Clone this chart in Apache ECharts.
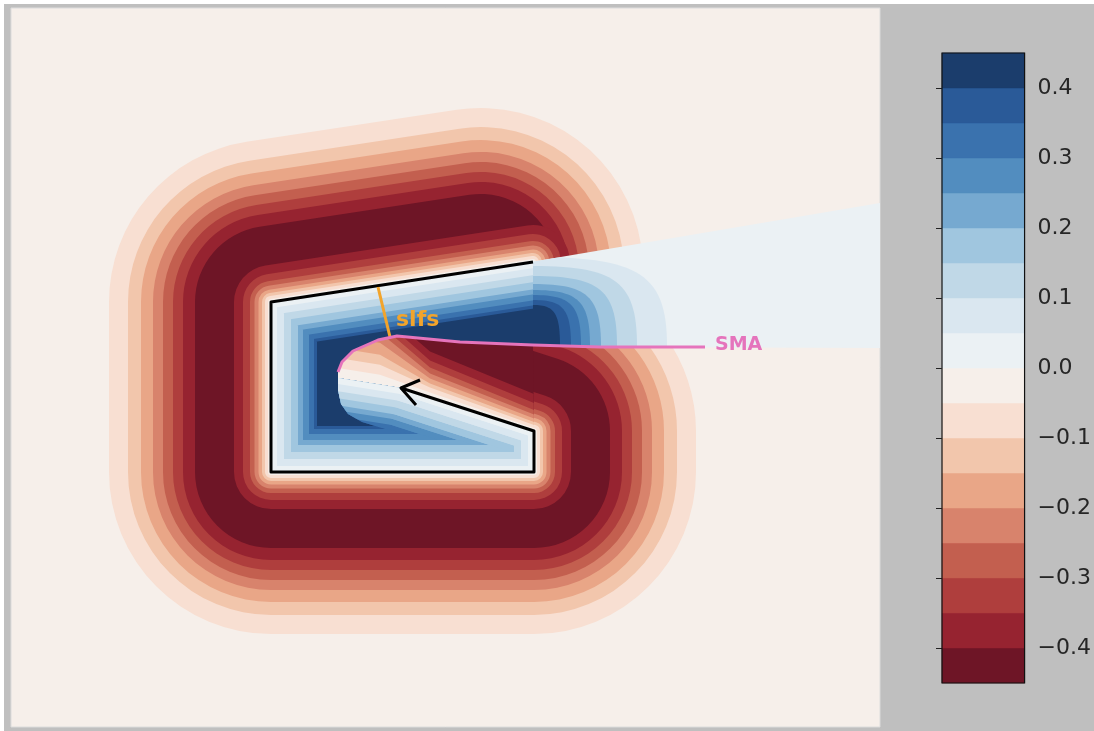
<!DOCTYPE html>
<html>
<head>
<meta charset="utf-8">
<script src="https://cdn.jsdelivr.net/npm/echarts@6/dist/echarts.min.js"></script>
<style>
html,body{margin:0;padding:0;background:#ffffff;}
#fig{position:absolute;left:4px;top:4px;width:1090px;height:727px;background:#bfbfbf;}
#chart{position:absolute;left:0;top:0;width:1094px;height:731px;}
</style>
</head>
<body>
<div id="fig"></div>
<div id="chart"></div>
<script>
// ---------------- data (plot units) ----------------
const levelEdges = [-0.45,-0.40,-0.35,-0.30,-0.25,-0.20,-0.15,-0.10,-0.05,0.00,0.05,0.10,0.15,0.20,0.25,0.30,0.35,0.40,0.45];
const colorbarTicks = [-0.4,-0.3,-0.2,-0.1,0.0,0.1,0.2,0.3,0.4];

// black open outline (top arm end -> top-left -> bottom-left -> bottom-right -> right -> arrow tip)
const outline = [[5.22,4.65],[2.60,4.25],[2.60,2.55],[5.23,2.55],[5.23,2.96],[3.90,3.39]];
const arrowHead = [[4.09,3.47],[3.90,3.39],[4.05,3.22]];
const zeroLineEnd = [3.27,3.49];
const redCapEnd = [4.70,4.57];
const smaLine = [[3.27,3.55],[3.31,3.65],[3.42,3.76],[3.67,3.87],[3.86,3.91],[4.49,3.85],[5.22,3.82],[5.89,3.80],[6.94,3.80]];
const slfsLine = [[3.67,4.40],[3.79,3.90]];
const fanEdge = [[5.20,4.65],[8.69,5.24],[8.69,3.79],[5.89,3.80],[5.20,3.82]];
const tongueLowerEdge = [[3.27,3.37],[3.30,3.23],[3.37,3.13],[3.51,3.05],[3.74,2.98],[4.09,2.91],[4.20,2.55]];

// red field bands: distance from outline and band (lower bound)
const redOuterDist  = [1.62,1.43,1.30,1.18,1.08,0.98,0.88,0.76];
const redOuterLevel = [-0.10,-0.15,-0.20,-0.25,-0.30,-0.35,-0.40,-0.45];
const redInnerDist  = [0.37,0.28,0.21,0.165,0.125,0.09,0.06,0.03];
const redInnerLevel = [-0.40,-0.35,-0.30,-0.25,-0.20,-0.15,-0.10,-0.05];

// red bands above the arrow (tongue): height above the zero line at stations
const tongueFillLevel = -0.45;
const tongueStations  = [3.27,3.69,4.19,5.23,5.40];
const tongueBandLevel = [-0.40,-0.35,-0.30,-0.25,-0.20,-0.15,-0.10,-0.05];
const tongueBandHeight = [
  [0.76,0.76,0.46,0.37,0.37],
  [0.68,0.68,0.37,0.28,0.28],
  [0.60,0.60,0.30,0.21,0.21],
  [0.52,0.52,0.24,0.165,0.165],
  [0.42,0.42,0.19,0.125,0.125],
  [0.30,0.30,0.14,0.09,0.09],
  [0.20,0.20,0.10,0.06,0.06],
  [0.10,0.10,0.05,0.03,0.03]
];

// blue interior bands: inset distance and band
const blueCoreLevel = 0.40;
const blueDist  = [0.46,0.43,0.38,0.32,0.27,0.20,0.13,0.06];
const blueLevel = [0.35,0.30,0.25,0.20,0.15,0.10,0.05,0.00];

// blue lobe right of the opening
const fanLevel  = 0.00;
const lobeLevel = [0.05,0.10,0.15,0.20,0.25,0.30,0.35,0.40];
const lobeTop   = [4.70,4.61,4.51,4.43,4.37,4.32,4.27,4.22];
const lobeRight = [6.56,6.26,6.06,5.90,5.79,5.70,5.60,5.49];
const smaBaseY  = 3.81;

const labels = [
  {pos:[3.85,4.07], text:'slfs'},
  {pos:[7.04,3.82], text:'SMA'}
];

// ---------------- styles ----------------
const palette = ['#6e1526','#962330','#af3e3d','#c35f4f','#d8836c','#e9a687','#f2c6ac','#f8dfd2','#f6efea',
                 '#ebf1f4','#dae7f0','#c0d8e7','#a0c6df','#76a9d0','#528dbf','#3a72ae','#2a5a98','#1b3d6c'];
function colorOf(v){ return palette[Math.max(0,Math.min(17,Math.round((v-levelEdges[0])/0.05)))]; }
const ORANGE = '#f2a42c', PINK = '#e574bc';

const P4 = outline[3], P5 = outline[4], P6 = outline[5];
const redOuterPath = [redCapEnd].concat(outline.slice(1)).concat([zeroLineEnd]);
const redInnerPath = outline.concat([zeroLineEnd]);
const tongueSegPath = [P5, P6, zeroLineEnd];
const zeroChain = [zeroLineEnd, P6, P5, [5.40, P5[1] - 0.06]];
const cClip = outline.concat([zeroLineEnd]).concat(smaLine.slice(0,7));
const lowerClip = [zeroLineEnd, P6, P5, P4].concat(tongueLowerEdge.slice().reverse());
const tongueClip = [zeroLineEnd].concat(smaLine.slice(0,7)).concat([P5, P6]);

function zeroY(x){
  for (let i=0;i<zeroChain.length-1;i++){
    const a = zeroChain[i], b = zeroChain[i+1];
    if (x <= b[0] || i === zeroChain.length-2){ const t = (x-a[0])/(b[0]-a[0]); return a[1] + t*(b[1]-a[1]); }
  }
}
function pts(api, arr){ return arr.map(p => api.coord(p)); }
function pxLen(api, d){ return api.size([d,0])[0]; }
function clipOf(api, poly){ return {type:'polygon', shape:{points: pts(api, poly)}}; }

function strokeItem(path, cap){
  return function(params, api){
    return {
      type:'polyline', z2: params.dataIndex,
      shape:{points: pts(api, path)},
      style:{fill:'none', stroke: colorOf(api.value(1)), lineWidth: 2*pxLen(api, api.value(0)), lineJoin:'round', lineCap: cap}
    };
  };
}
function fillItem(poly, clip){
  return function(params, api){
    const el = {type:'polygon', shape:{points: pts(api, poly)}, style:{fill: colorOf(api.value(0)), stroke:'none'}};
    if (clip) el.clipPath = clipOf(api, clip);
    return el;
  };
}
function lobeShape(api, top, right){
  const x0 = 5.22, base = smaBaseY, k = 0.8;
  const P0=[x0,top], C1=[x0+k*(right-x0),top], C2=[right,base+k*(top-base)], Q=[right,base];
  const out = [api.coord([5.10, top])];
  for (let i=0;i<=30;i++){
    const t=i/30, s=1-t;
    const x = s*s*s*P0[0]+3*s*s*t*C1[0]+3*s*t*t*C2[0]+t*t*t*Q[0];
    const y = s*s*s*P0[1]+3*s*s*t*C1[1]+3*s*t*t*C2[1]+t*t*t*Q[1];
    out.push(api.coord([x,y]));
  }
  out.push(api.coord([right, base-0.15]), api.coord([5.10, base-0.15]));
  return out;
}

const base = {type:'custom', coordinateSystem:'cartesian2d', xAxisIndex:0, yAxisIndex:0, clip:true, silent:true, animation:false};
function lineSeries(data, color, width, z){
  return {type:'line', xAxisIndex:0, yAxisIndex:0, data: data, symbol:'none', silent:true, animation:false, z:z,
          lineStyle:{color:color, width:width, join:'round', cap:'butt'}};
}

const chart = echarts.init(document.getElementById('chart'), null, {renderer:'canvas'});
chart.setOption({
  backgroundColor:'transparent',
  animation:false,
  grid:[
    {left:11, top:8, width:869, height:719, show:true, backgroundColor: colorOf(-0.05), borderColor:'#dcdcdc', borderWidth:1},
    {left:942, top:53, width:89, height:630, show:false}
  ],
  xAxis:[
    {gridIndex:0, type:'value', min:0, max:8.69, show:false},
    {gridIndex:1, type:'value', min:0, max:1, show:false}
  ],
  yAxis:[
    {gridIndex:0, type:'value', min:0, max:7.19, show:false},
    {gridIndex:1, type:'value', min:-0.45, max:0.45, position:'right',
     splitLine:{show:false}, axisLine:{show:false},
     axisTick:{show:true, inside:true, length:6, customValues: colorbarTicks, lineStyle:{color:'#222', width:1}},
     axisLabel:{customValues: colorbarTicks, margin:13, color:'#262626', fontSize:22, fontFamily:'DejaVu Sans',
                formatter: v => Number(v).toFixed(1).replace('-', '\u2212')}}
  ],
  series:[
    Object.assign({}, base, {z:1, data: redOuterDist.map((d,i)=>[d, redOuterLevel[i]]), renderItem: strokeItem(redOuterPath, 'round')}),
    Object.assign({}, base, {z:2, data: redInnerDist.map((d,i)=>[d, redInnerLevel[i]]), renderItem: strokeItem(redInnerPath, 'round')}),
    Object.assign({}, base, {z:3, data: [[tongueFillLevel]], renderItem: fillItem(tongueClip, null)}),
    Object.assign({}, base, {z:3, data: tongueBandLevel.map((l,i)=>[l, i]),
      renderItem: function(params, api){
        const h = tongueBandHeight[api.value(1)];
        const top = tongueStations.map((x,j)=>[x, zeroY(x) + h[j]]).reverse();
        const poly = zeroChain.concat(top);
        return {type:'polygon', z2: 10 + params.dataIndex, shape:{points: pts(api, poly)},
                style:{fill: colorOf(api.value(0)), stroke:'none'}, clipPath: clipOf(api, tongueClip)};
      }}),
    Object.assign({}, base, {z:4, data: [[fanLevel]], renderItem: fillItem(fanEdge, null)}),
    Object.assign({}, base, {z:5, data: lobeLevel.map((l,i)=>[l, lobeTop[i], lobeRight[i]]),
      renderItem: function(params, api){
        return {type:'polygon', z2: params.dataIndex, shape:{points: lobeShape(api, api.value(1), api.value(2))},
                style:{fill: colorOf(api.value(0)), stroke:'none'},
                clipPath: clipOf(api, fanEdge)};
      }}),
    Object.assign({}, base, {z:6, data: [[blueCoreLevel]], renderItem: fillItem(cClip, null)}),
    Object.assign({}, base, {z:7, data: blueDist.map((d,i)=>[d, blueLevel[i]]),
      renderItem: function(params, api){
        const w = 2*pxLen(api, api.value(0)), c = colorOf(api.value(1));
        return {type:'group', children:[
          {type:'polyline', z2: params.dataIndex, shape:{points: pts(api, outline)},
           style:{fill:'none', stroke:c, lineWidth:w, lineJoin:'round', lineCap:'butt'}, clipPath: clipOf(api, cClip)},
          {type:'polyline', z2: params.dataIndex, shape:{points: pts(api, tongueSegPath)},
           style:{fill:'none', stroke:c, lineWidth:w, lineJoin:'round', lineCap:'butt'}, clipPath: clipOf(api, lowerClip)}
        ]};
      }}),
    lineSeries(outline, '#000000', 3, 10),
    lineSeries(arrowHead, '#000000', 3, 10),
    lineSeries(slfsLine, ORANGE, 3, 10),
    lineSeries(smaLine, PINK, 3, 10),
    Object.assign({}, base, {z:11, data: labels.map(l=>[l.pos[0], l.pos[1]]),
      renderItem: function(params, api){
        const p = api.coord([api.value(0), api.value(1)]);
        const i = params.dataIndex;
        return {type:'text', x:p[0], y:p[1],
                style:{text: labels[i].text, fill: i===0?ORANGE:PINK, font: (i===0?'bold 22px':'bold 19px') + ' "DejaVu Sans"',
                       align:'left', verticalAlign:'middle'}};
      }}),
    {type:'custom', coordinateSystem:'cartesian2d', xAxisIndex:1, yAxisIndex:1, silent:true, animation:false, z:2,
     data: levelEdges.slice(0,-1).map((lo,i)=>[lo, levelEdges[i+1]]),
     renderItem: function(params, api){
       const a = api.coord([0, api.value(1)]), b = api.coord([1, api.value(0)]);
       return {type:'rect', shape:{x:a[0], y:a[1], width:b[0]-a[0], height:b[1]-a[1]},
               style:{fill: colorOf(api.value(0)), stroke: colorOf(api.value(0)), lineWidth:0.5}};
     }},
    {type:'custom', coordinateSystem:'cartesian2d', xAxisIndex:1, yAxisIndex:1, silent:true, animation:false, z:3,
     data: [[levelEdges[0], levelEdges[levelEdges.length-1]]],
     renderItem: function(params, api){
       const a = api.coord([0, api.value(1)]), b = api.coord([1, api.value(0)]);
       return {type:'rect', shape:{x:a[0], y:a[1], width:b[0]-a[0], height:b[1]-a[1]},
               style:{fill:'none', stroke:'#111111', lineWidth:1.2}};
     }}
  ]
});
</script>
</body>
</html>
